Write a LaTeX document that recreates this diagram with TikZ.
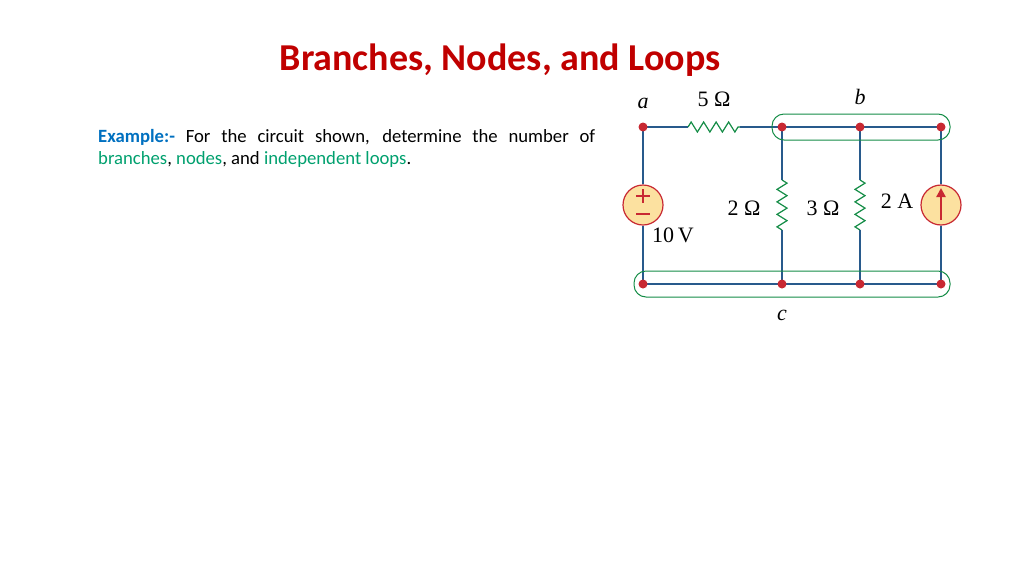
\documentclass[tikz,border=0pt]{standalone}
\usepackage{fontspec}
\setmainfont{Carlito}
\newfontfamily\serifm{Liberation Serif}
\usetikzlibrary{decorations.pathmorphing,arrows.meta}
\definecolor{wire}{RGB}{40,90,140}
\definecolor{res}{RGB}{20,140,70}
\definecolor{dotc}{RGB}{200,40,50}
\definecolor{srcf}{RGB}{252,225,160}
\definecolor{titc}{RGB}{192,0,0}
\definecolor{exb}{RGB}{0,112,192}
\definecolor{grn}{RGB}{0,160,110}
\begin{document}
\begin{tikzpicture}[x=1pt,y=-1pt,
  w/.style={draw=wire,line width=1.3pt},
  resist/.style={draw=res,line width=1.2pt,decorate,decoration={zigzag,segment length=12.5pt,amplitude=5pt}},
  dot/.style={circle,fill=dotc,inner sep=0pt,minimum size=9pt},
  src/.style={circle,draw=dotc,fill=srcf,line width=1.2pt,minimum size=40pt,inner sep=0pt},
  grp/.style={draw=res,line width=1pt,rounded corners=12pt},
  lab/.style={font=\serifm\fontsize{22}{22}\selectfont}]
\useasboundingbox (0,0) rectangle (1024,576);
\node[font=\bfseries\fontsize{38}{38}\selectfont,text=titc] (title) at (500,60) {Branches, Nodes, and Loops};
\node[anchor=west,font=\fontsize{18.7}{18.7}\selectfont,align=justify,text width=497pt,inner sep=0pt] (t1) at (98,137) {\parfillskip=0pt \textcolor{exb}{\textbf{Example:-}} For the circuit shown, determine the number of\par};
\node[anchor=west,font=\fontsize{18.7}{18.7}\selectfont,inner sep=0pt] (t2) at (98,160) {\textcolor{grn}{branches}, \textcolor{grn}{nodes}, and \textcolor{grn}{independent loops}.};
% nodes
\coordinate (a) at (643,127);
\coordinate (b1) at (782,127); \coordinate (b2) at (860,127); \coordinate (b3) at (941,127);
\coordinate (c0) at (643,284); \coordinate (c1) at (782,284); \coordinate (c2) at (860,284); \coordinate (c3) at (941,284);
\coordinate (r5a) at (688,127); \coordinate (r5b) at (740,127);
\coordinate (r2a) at (782,180); \coordinate (r2b) at (782,230);
\coordinate (r3a) at (860,180); \coordinate (r3b) at (860,230);
\node[src] (vs) at (643,205) {};
\node[src] (is) at (941,205) {};
\draw[dotc,line width=1.4pt] (636,196) -- (650,196) (643,189) -- (643,203) (636,214) -- (650,214);
\draw[dotc,line width=2.4pt,-{Triangle[length=9pt,width=9pt]}] (941,220) -- (941,188);
% wires
\draw[w] (vs.north) -- (a) -- (r5a);
\draw[w] (r5b) -- (b3) -- (is.north);
\draw[w] (is.south) -- (c3) -- (c0) -- (vs.south);
\draw[w] (b1) -- (r2a); \draw[w] (r2b) -- (c1);
\draw[w] (b2) -- (r3a); \draw[w] (r3b) -- (c2);
\draw[resist] (r5a) -- (r5b);
\draw[resist] (r2a) -- (r2b);
\draw[resist] (r3a) -- (r3b);
% groups
\draw[grp] (772,114) rectangle (950,140);
\draw[grp] (634,271) rectangle (950,297);
\foreach \p in {a,b1,b2,b3,c0,c1,c2,c3} \node[dot] at (\p) {};
% labels
\node[lab] at (643,103) {\itshape a};
\node[lab] at (714,99) {5 Ω};
\node[lab] at (860,97) {\itshape b};
\node[lab] at (744,208) {2 Ω};
\node[lab] at (823,208) {3 Ω};
\node[lab] at (897,201) {2 A};
\node[lab] at (673,235) {10\,V};
\node[lab] at (782,315) {\itshape c};
\end{tikzpicture}
\end{document}
